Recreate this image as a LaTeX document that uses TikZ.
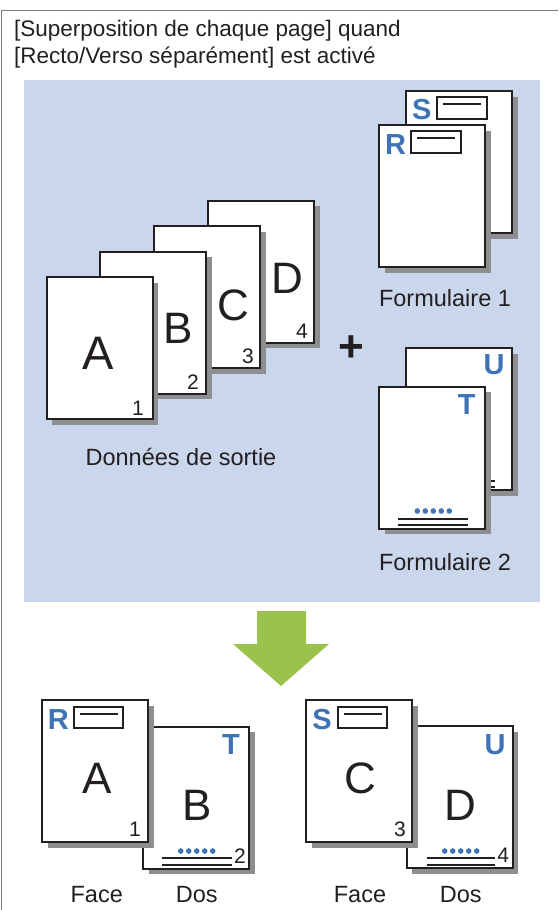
\documentclass[tikz,border=0pt]{standalone}
\usepackage{fontspec}
\setmainfont{Liberation Sans}
\usetikzlibrary{shadows}
\definecolor{ink}{HTML}{231F20}
\definecolor{panel}{HTML}{C9D6EC}
\definecolor{shade}{HTML}{8D8E90}
\definecolor{lblue}{HTML}{3E73B5}
\definecolor{agreen}{HTML}{9BC24D}
\definecolor{framegray}{HTML}{7A7A7A}
\begin{document}
\begin{tikzpicture}[x=1pt,y=-1pt,
  pagebox/.style={draw=ink, line width=2.1pt, fill=white, minimum width=106pt, minimum height=142pt,
    inner sep=0pt, outer sep=0pt, anchor=north west,
    general shadow={fill=shade, shadow xshift=5.5pt, shadow yshift=-5.5pt}},
  bigletter/.style={font=\fontsize{44}{44}\selectfont, text=ink, inner sep=0pt},
  pagenum/.style={font=\fontsize{21}{21}\selectfont, text=ink, inner sep=0pt},
  letmark/.style={font=\bfseries\fontsize{29}{29}\selectfont, text=lblue, inner sep=0pt},
  caption/.style={font=\fontsize{23.5}{23.5}\selectfont, text=ink, inner sep=0pt},
  titletext/.style={font=\fontsize{22.5}{22.5}\selectfont, text=ink, inner sep=0pt, anchor=base west},
  formbox/.style={draw=ink, line width=2.1pt},
  formline/.style={draw=ink, line width=2pt},
  dotfill/.style={fill=lblue}
]
\useasboundingbox (0,0) rectangle (558,910);
% frame
\draw[framegray, line width=1.2pt] (1.5,910) -- (1.5,10.5) -- (558,10.5);
% title
\node[titletext] (t1) at (14,36) {[Superposition de chaque page] quand};
\node[titletext] (t2) at (14,63) {[Recto/Verso séparément] est activé};
% panel
\fill[panel] (24,80) rectangle (540,602);

% data pages
\node[pagebox] (pD) at (208.3,200.7) {};
\node[pagebox] (pC) at (154.3,226) {};
\node[pagebox] (pB) at (100,251.7) {};
\node[pagebox] (pA) at (46.7,277) {};
\node[bigletter] (lD) at (287,278) {D};
\node[bigletter] (lC) at (233,305) {C};
\node[bigletter] (lB) at (178,328) {B};
\node[bigletter, font=\fontsize{47}{47}\selectfont] (lA) at (98,353) {A};
\node[pagenum] (n4) at (302,331) {4};
\node[pagenum] (n3) at (248,356) {3};
\node[pagenum] (n2) at (193,382) {2};
\node[pagenum] (n1) at (138,408) {1};
\node[caption] (cdata) at (181,457) {Données de sortie};
% plus
\node[font=\bfseries\fontsize{44}{44}\selectfont, text=ink, inner sep=0pt] (plus) at (351,349) {+};

% Formulaire 1
\node[pagebox] (fS) at (406,91) {};
\node[letmark] (mS) at (421.7,110) {S};
\draw[formbox] (436.7,96.7) rectangle (486.7,119);
\draw[formline] (443,104) -- (481,104);
\node[pagebox] (fR) at (379,125) {};
\node[letmark] (mR) at (395.7,145) {R};
\draw[formbox] (410.7,131) rectangle (460.7,152.7);
\draw[formline] (416.7,138.3) -- (455,138.3);
\node[caption] (cf1) at (445,298) {Formulaire 1};

% Formulaire 2
\node[pagebox] (fU) at (406,348.3) {};
\node[letmark] (mU) at (494,365) {U};
\foreach \i in {0,...,4} \fill[dotfill] (444+8*\i,472.6) circle (2.8);
\draw[formline] (425.3,481) -- (494.7,481);
\draw[formline] (425.3,486.5) -- (494.7,486.5);
\node[pagebox] (fT) at (379,386.7) {};
\node[letmark] (mT) at (466.7,405) {T};
\foreach \i in {0,...,4} \fill[dotfill] (417.3+8*\i,511) circle (2.8);
\draw[formline] (398.3,519) -- (467.7,519);
\draw[formline] (398.3,524.5) -- (467.7,524.5);
\node[caption] (cf2) at (445,561.7) {Formulaire 2};

% arrow
\fill[agreen] (257,611) -- (306,611) -- (306,644) -- (329,644) -- (281,686) -- (233,644) -- (257,644) -- cycle;

% result left pair
\node[pagebox] (rB) at (143.3,726.7) {};
\node[letmark] (rT) at (231,745) {T};
\node[bigletter] (rlB) at (196.7,805) {B};
\foreach \i in {0,...,4} \fill[dotfill] (180.7+8*\i,851) circle (2.8);
\draw[formline] (162.3,858.3) -- (231.7,858.3);
\draw[formline] (162.3,865) -- (231.7,865);
\node[pagenum] (rn2) at (240,855.7) {2};
\node[pagebox] (rA) at (42.3,700) {};
\node[letmark] (rR) at (58.3,720) {R};
\draw[formbox] (74,706.7) rectangle (123.3,728.3);
\draw[formline] (80,713.5) -- (118,713.5);
\node[bigletter] (rlA) at (96.7,778) {A};
\node[pagenum] (rn1) at (135,829.3) {1};
\node[caption] (face1) at (96.7,895) {Face};
\node[caption] (dos1) at (196.7,895) {Dos};

% result right pair
\node[pagebox] (rD) at (406.7,726.3) {};
\node[letmark] (rU) at (495,745) {U};
\node[bigletter] (rlD) at (460.7,805) {D};
\foreach \i in {0,...,4} \fill[dotfill] (444.7+8*\i,851) circle (2.8);
\draw[formline] (426.7,858.3) -- (495,858.3);
\draw[formline] (426.7,865) -- (495,865);
\node[pagenum] (rn4) at (503.3,855.7) {4};
\node[pagebox] (rC) at (306,700) {};
\node[letmark] (rS) at (322,720) {S};
\draw[formbox] (337.6,706.7) rectangle (387,728.3);
\draw[formline] (343.6,713.5) -- (381.6,713.5);
\node[bigletter] (rlC) at (360,778) {C};
\node[pagenum] (rn3) at (400,829.3) {3};
\node[caption] (face2) at (360,895) {Face};
\node[caption] (dos2) at (460.7,895) {Dos};
\end{tikzpicture}
\end{document}
